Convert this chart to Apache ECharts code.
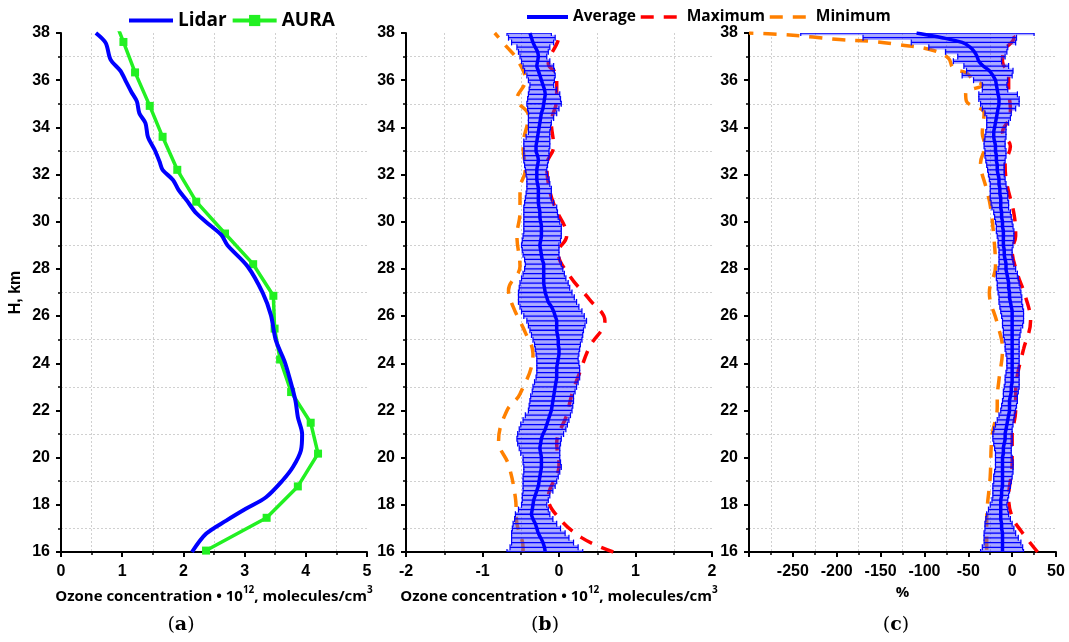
<!DOCTYPE html>
<html>
<head>
<meta charset="utf-8">
<script src="https://cdn.jsdelivr.net/npm/echarts@6/dist/echarts.min.js"></script>
<style>
  html, body { margin: 0; padding: 0; background: #ffffff; }
  #chart { width: 1069px; height: 642px; }
</style>
</head>
<body>
<div id="chart"></div>
<script>
// ---------- (a) Lidar vs AURA ozone concentration profiles ----------
const lidarH    = [16.0, 16.77, 17.33, 17.83, 18.32, 19.03, 19.6, 20.3, 21.0, 21.72, 22.43, 23.42, 24.1, 24.98, 26.04, 26.96, 28.1, 29.0, 29.44, 29.86, 30.36, 30.92, 31.35, 31.77, 32.2, 32.55, 33.05, 33.6, 34.18, 34.6, 35.1, 35.5, 35.95, 36.4, 36.87, 37.58, 38.0];
const lidarConc = [2.14, 2.37, 2.70, 3.02, 3.35, 3.62, 3.79, 3.92, 3.94, 3.87, 3.83, 3.73, 3.65, 3.51, 3.43, 3.30, 3.05, 2.72, 2.62, 2.43, 2.21, 2.05, 1.92, 1.83, 1.66, 1.61, 1.53, 1.42, 1.38, 1.28, 1.24, 1.15, 1.06, 0.97, 0.81, 0.73, 0.57];

const auraH    = [16.06, 17.45, 18.78, 20.17, 21.48, 22.78, 24.16, 25.47, 26.86, 28.2, 29.5, 30.85, 32.2, 33.6, 34.91, 36.33, 37.62, 38.95];
const auraConc = [2.37, 3.36, 3.87, 4.20, 4.08, 3.76, 3.58, 3.49, 3.47, 3.14, 2.68, 2.21, 1.90, 1.66, 1.45, 1.21, 1.02, 0.82];

// ---------- (b), (c) lidar minus AURA: sampled every 0.2 km from 16 to 38 km ----------
const H_START = 16.0;
const H_STEP = 0.2;

// (b) absolute difference, 10^12 molecules/cm3
const bMean = [
  -0.18,-0.19,-0.21,-0.24,-0.27,-0.29,-0.31,-0.34,-0.36,-0.35,
  -0.34,-0.33,-0.31,-0.29,-0.27,-0.26,-0.25,-0.24,-0.23,-0.23,
  -0.23,-0.24,-0.25,-0.24,-0.23,-0.21,-0.18,-0.16,-0.14,-0.12,
  -0.10,-0.09,-0.08,-0.07,-0.06,-0.05,-0.04,-0.03,-0.03,-0.03,
  -0.02,-0.01, 0.00, 0.00,-0.01,-0.01,-0.02,-0.03,-0.03,-0.03,
  -0.05,-0.07,-0.10,-0.14,-0.16,-0.18,-0.19,-0.20,-0.20,-0.20,
  -0.20,-0.20,-0.22,-0.23,-0.24,-0.25,-0.24,-0.23,-0.23,-0.23,
  -0.24,-0.25,-0.25,-0.26,-0.27,-0.27,-0.27,-0.27,-0.28,-0.29,
  -0.29,-0.29,-0.28,-0.27,-0.28,-0.30,-0.30,-0.29,-0.28,-0.27,
  -0.26,-0.25,-0.24,-0.23,-0.21,-0.20,-0.19,-0.18,-0.19,-0.21,
  -0.23,-0.25,-0.27,-0.29,-0.28,-0.27,-0.28,-0.31,-0.34,-0.36,
  -0.38
];
const bLow = [
  -0.68,-0.64,-0.62,-0.62,-0.62,-0.61,-0.60,-0.58,-0.57,-0.53,
  -0.49,-0.48,-0.48,-0.47,-0.47,-0.47,-0.47,-0.46,-0.46,-0.47,
  -0.47,-0.50,-0.52,-0.54,-0.55,-0.54,-0.52,-0.50,-0.47,-0.44,
  -0.40,-0.39,-0.38,-0.37,-0.35,-0.34,-0.32,-0.30,-0.29,-0.29,
  -0.29,-0.29,-0.30,-0.31,-0.32,-0.34,-0.36,-0.38,-0.40,-0.42,
  -0.46,-0.49,-0.51,-0.53,-0.53,-0.53,-0.52,-0.51,-0.49,-0.47,
  -0.45,-0.44,-0.45,-0.47,-0.48,-0.49,-0.48,-0.47,-0.46,-0.46,
  -0.46,-0.46,-0.46,-0.46,-0.45,-0.44,-0.43,-0.42,-0.42,-0.42,
  -0.43,-0.44,-0.45,-0.46,-0.46,-0.46,-0.46,-0.46,-0.43,-0.40,
  -0.40,-0.40,-0.40,-0.40,-0.41,-0.42,-0.41,-0.40,-0.39,-0.38,
  -0.40,-0.42,-0.45,-0.47,-0.49,-0.51,-0.53,-0.55,-0.62,-0.66,
  -0.68
];
const bHigh = [
   0.31, 0.25, 0.19, 0.13, 0.08, 0.02,-0.03,-0.08,-0.12,-0.14,
  -0.16,-0.14,-0.12,-0.08,-0.05,-0.03,-0.01, 0.01, 0.03, 0.02,
   0.01, 0.01, 0.01, 0.02, 0.03, 0.06, 0.09, 0.11, 0.13, 0.15,
   0.17, 0.18, 0.19, 0.19, 0.21, 0.23, 0.25, 0.27, 0.27, 0.27,
   0.26, 0.25, 0.26, 0.27, 0.28, 0.30, 0.31, 0.32, 0.34, 0.36,
   0.33, 0.30, 0.26, 0.23, 0.20, 0.17, 0.14, 0.12, 0.09, 0.07,
   0.05, 0.03, 0.01, 0.00, 0.00, 0.00, 0.02, 0.03, 0.03, 0.03,
   0.01,-0.01,-0.02,-0.03,-0.07,-0.10,-0.10,-0.10,-0.12,-0.13,
  -0.15,-0.16,-0.15,-0.14,-0.13,-0.13,-0.12,-0.12,-0.12,-0.12,
  -0.11,-0.10,-0.07,-0.03, 0.00, 0.03, 0.02, 0.01,-0.03,-0.07,
  -0.06,-0.05,-0.06,-0.07,-0.12,-0.16,-0.14,-0.12,-0.07,-0.05,
  -0.10
];
const bMaxH = [16.0, 16.6, 17.55, 18.3, 19.7, 20.6, 21.8, 22.7, 23.6, 24.7, 25.8, 26.7, 27.7, 28.7, 29.4, 30.6, 31.3, 32.4, 33.2, 34.2, 35.2, 36.2, 36.7, 37.7, 38.0];
const bMaxV = [0.71, 0.30, -0.03, -0.14, 0.00, -0.03, 0.10, 0.17, 0.27, 0.40, 0.60, 0.40, 0.14, -0.01, 0.10, -0.05, -0.12, -0.16, -0.07, -0.10, -0.03, -0.03, -0.14, -0.01, 0.00];
const bMinH = [16.0, 16.2, 17.2, 18.3, 19.7, 20.7, 22.0, 22.7, 24.4, 25.3, 26.4, 27.1, 28.1, 29.4, 30.4, 31.4, 32.2, 33.2, 34.5, 35.2, 36.0, 36.9, 37.4, 38.0];
const bMinV = [-0.47, -0.47, -0.55, -0.57, -0.66, -0.79, -0.68, -0.51, -0.34, -0.44, -0.60, -0.66, -0.51, -0.55, -0.51, -0.51, -0.44, -0.47, -0.40, -0.55, -0.44, -0.55, -0.68, -0.84];

// (c) relative difference, %
const cMean = [
  -11,-11,-11,-11,-11,-12,-12,-13,-13,-13,
  -13,-13,-12,-12,-11,-11,-11,-11,-11,-11,
  -11,-10,-10, -9, -8, -8, -7, -6, -5, -4,
   -3, -3, -3, -2, -1, -1,  0,  0,  0,  0,
    0,  0,  0,  0,  0,  0,  0,  0,  0,  0,
    0,  0, -1, -2, -3, -3, -4, -4, -5, -6,
   -7, -7, -8, -9, -9,-10,-10,-10,-10,-11,
  -11,-12,-12,-13,-13,-13,-14,-14,-15,-15,
  -16,-17,-17,-18,-18,-19,-19,-20,-21,-21,
  -20,-19,-18,-17,-16,-15,-15,-16,-17,-18,
  -19,-22,-26,-33,-38,-40,-43,-48,-57,-80,
  -109
];
const cLow = [
  -36,-34,-32,-32,-32,-31,-31,-30,-29,-27,
  -25,-23,-22,-22,-22,-21,-21,-20,-19,-19,
  -19,-19,-20,-21,-22,-22,-21,-19,-17,-15,
  -13,-12,-11,-10,-10, -9, -8, -8, -7, -6,
   -6, -6, -7, -8, -8, -9,-10,-10,-11,-11,
  -12,-13,-14,-15,-15,-16,-17,-17,-18,-18,
  -16,-15,-15,-15,-15,-16,-16,-17,-18,-18,
  -19,-20,-21,-23,-24,-25,-25,-25,-25,-26,
  -27,-28,-29,-30,-31,-31,-32,-32,-31,-30,
  -29,-29,-29,-31,-34,-36,-38,-38,-34,-34,
  -44,-57,-52,-55,-67,-62,-76,-95,-115,-170,
  -241
];
const cHigh = [
   13, 12, 10,  7,  4,  2,  0, -2, -4, -5,
   -6, -5, -4, -3, -2, -1,  0,  1,  1,  1,
    0, -1, -1,  0,  0,  0,  0,  1,  2,  3,
    4,  5,  6,  6,  7,  8,  8,  8,  8,  8,
    8,  8,  8,  8,  8,  8,  9, 10, 12, 13,
   13, 13, 12, 11, 11, 10,  9,  8,  7,  6,
    4,  2,  1,  0,  0,  1,  2,  2,  2,  1,
    0, -1, -2, -4, -4, -5, -5, -6, -7, -8,
   -9, -9, -9, -8, -7, -7, -8, -8, -7, -7,
   -7, -4, -2, -1,  4,  8,  8,  6, -5, -6,
   -5,  0,  1, -4,-12, -8, -6, -5,  4,  5,
   25
];
const cMaxH = [16.0, 16.9, 17.5, 18.3, 19.75, 20.9, 22.0, 22.8, 23.5, 24.6, 25.8, 26.85, 27.8, 28.8, 29.4, 30.35, 31.6, 32.4, 33.2, 33.8, 34.4, 34.8, 35.6, 36.2, 36.8, 37.2, 37.8, 38.0];
const cMaxV = [29, 10, 0, -4, 0, 0, 4, 4, 6, 13, 21, 15, 6, 0, 4, 2, -6, -8, -2, -11, -3, -2, -4, -4, -11, -10, 2, -2];
const cMinH = [16.1, 16.5, 17.35, 19.2, 20.9, 22.15, 22.5, 23.3, 24.6, 25.7, 27.0, 28.1, 29.4, 30.7, 31.35, 32.5, 33.2, 33.75, 34.6, 35.1, 35.45, 35.8, 36.0, 36.3, 36.5, 36.95, 37.3, 37.5, 37.65, 37.72, 37.83, 37.93, 38.0];
const cMinV = [-29, -29, -29, -25, -23, -17, -17, -15, -11, -17, -26, -19, -21, -25, -29, -36, -31, -34, -32, -52, -53, -34, -44, -52, -67, -73, -94, -128, -162, -197, -227, -260, -300];

// ---------- axis ticks ----------
const heightTicks = { min: 16, max: 38, step: 2 };
const concTicksA  = { min: 0, max: 5, step: 1 };
const concTicksB  = { min: -2, max: 2, step: 1 };
const pctTicksC   = { min: -300, max: 50, step: 50 };

// ---------- helpers ----------
const sampleH = bMean.map((_, i) => +(H_START + i * H_STEP).toFixed(1));
const pairs = (xs, hs) => xs.map((x, i) => [x, hs[i]]);
const bars = (lo, hi) => lo.map((l, i) => [l, hi[i], sampleH[i]]);

const NUM_FONT = 'Arial, "Liberation Sans", sans-serif';
const TXT_FONT = '"Open Sans", sans-serif';
const BLUE = '#0000ff';
const GREEN = '#22f022';
const RED = '#ff0000';
const ORANGE = '#ff8000';

function renderErrorBar(params, api) {
  const h = api.value(2);
  const a = api.coord([api.value(0), h]);
  const b = api.coord([api.value(1), h]);
  const band = api.size([0, H_STEP])[1];
  const cap = 3;
  return {
    type: 'group',
    children: [
      { type: 'rect', shape: { x: a[0], y: a[1] - band / 2, width: b[0] - a[0], height: band },
        style: { fill: 'rgba(60,60,255,0.45)' } },
      { type: 'line', shape: { x1: a[0], y1: a[1], x2: b[0], y2: b[1] },
        style: { stroke: BLUE, lineWidth: 1.3 } },
      { type: 'line', shape: { x1: a[0], y1: a[1] - cap, x2: a[0], y2: a[1] + cap },
        style: { stroke: BLUE, lineWidth: 1.2 } },
      { type: 'line', shape: { x1: b[0], y1: b[1] - cap, x2: b[0], y2: b[1] + cap },
        style: { stroke: BLUE, lineWidth: 1.2 } }
    ]
  };
}

const axisCommon = {
  type: 'value',
  axisLine: { show: true, onZero: false, lineStyle: { color: '#000', width: 2 } },
  axisTick: { show: true, inside: false, length: 5, lineStyle: { color: '#000', width: 2 } },
  minorTick: { show: true, splitNumber: 2, length: 3, lineStyle: { color: '#000', width: 1.5 } },
  splitLine: { show: false },
  minorSplitLine: { show: true, lineStyle: { color: '#d0d0d0', width: 1, type: [2, 2] } },
  axisLabel: { fontFamily: NUM_FONT, fontSize: 16, fontWeight: 700, color: '#000', margin: 12 }
};

const concName = '{n|Ozone concentration \u2022 10}{s|12}{n|, molecules/cm}{s|3}';
const concNameStyle = {
  rich: {
    n: { fontFamily: TXT_FONT, fontSize: 15, fontWeight: 700, color: '#000', lineHeight: 19, verticalAlign: 'bottom' },
    s: { fontFamily: TXT_FONT, fontSize: 10, fontWeight: 700, color: '#000', lineHeight: 19, verticalAlign: 'top', padding: [0, 0, 6, 0] }
  }
};

function xAxisFor(gridIndex, t, name, extra) {
  return Object.assign({}, axisCommon, {
    gridIndex, min: t.min, max: t.max, interval: t.step,
    name, nameLocation: 'middle', nameGap: 30, nameTextStyle: concNameStyle
  }, extra || {});
}
function yAxisFor(gridIndex, withName) {
  const ax = Object.assign({}, axisCommon, {
    gridIndex, min: heightTicks.min, max: heightTicks.max, interval: heightTicks.step,
    axisLabel: Object.assign({}, axisCommon.axisLabel, { margin: 11 })
  });
  if (withName) {
    ax.name = 'H, km';
    ax.nameLocation = 'middle';
    ax.nameGap = 37;
    ax.nameTextStyle = { fontFamily: NUM_FONT, fontSize: 16, fontWeight: 700, color: '#000' };
  }
  return ax;
}

const dashed = (color) => ({ color, width: 3.5, type: [13, 10], cap: 'butt' });

function diffSeries(idx, lo, hi, mean, maxH, maxV, minH, minV) {
  return [
    { name: 'Maximum', type: 'line', xAxisIndex: idx, yAxisIndex: idx, z: 2,
      data: pairs(maxV, maxH), symbol: 'none', smooth: 0.4, color: RED, lineStyle: dashed(RED) },
    { name: 'Minimum', type: 'line', xAxisIndex: idx, yAxisIndex: idx, z: 2,
      data: pairs(minV, minH), symbol: 'none', smooth: 0.4, color: ORANGE, lineStyle: dashed(ORANGE) },
    { type: 'custom', xAxisIndex: idx, yAxisIndex: idx, z: 3, clip: true,
      renderItem: renderErrorBar, encode: { x: [0, 1], y: 2 }, data: bars(lo, hi) },
    { name: 'Average', type: 'line', xAxisIndex: idx, yAxisIndex: idx, z: 4,
      data: pairs(mean, sampleH), symbol: 'none', smooth: 0.3, color: BLUE,
      lineStyle: { color: BLUE, width: 3.5 } }
  ];
}

const legendText = (size) => ({ fontFamily: TXT_FONT, fontSize: size, fontWeight: 700, color: '#000' });
// legend entries for plain lines: hide the marker, keep a thick line sample
const lineOnly = (name, dash) => ({
  name, itemStyle: { opacity: 0 },
  lineStyle: dash ? { width: 3.5, type: [13, 10] } : { width: 4 }
});

const panelTag = (letter, cx) => ({
  type: 'text', x: cx, y: 625,
  style: {
    text: '{p|(}{b|' + letter + '}{p|)}',
    textAlign: 'center', textVerticalAlign: 'middle',
    rich: {
      p: { fontFamily: 'DejaVu Serif', fontSize: 19, fill: '#000' },
      b: { fontFamily: 'DejaVu Serif', fontSize: 19, fontWeight: 'bold', fill: '#000' }
    }
  }
});

const option = {
  animation: false,
  backgroundColor: '#ffffff',
  grid: [
    { left: 61, top: 33, width: 306, height: 519 },
    { left: 406, top: 33, width: 306, height: 519 },
    { left: 749, top: 33, width: 307, height: 519 }
  ],
  xAxis: [
    xAxisFor(0, concTicksA, concName),
    xAxisFor(1, concTicksB, concName),
    xAxisFor(2, pctTicksC, '%', {
      nameTextStyle: { fontFamily: TXT_FONT, fontSize: 15, fontWeight: 700, color: '#000' },
      nameGap: 31,
      axisLabel: Object.assign({}, axisCommon.axisLabel, {
        formatter: (v) => (v === pctTicksC.min ? '' : String(v))
      })
    })
  ],
  yAxis: [yAxisFor(0, true), yAxisFor(1, false), yAxisFor(2, false)],
  legend: [
    { data: [lineOnly('Lidar'), { name: 'AURA', lineStyle: { width: 4 } }], left: 122, top: 6,
      itemWidth: 44, itemHeight: 14, itemGap: 4, textStyle: legendText(19) },
    { data: [lineOnly('Average'), lineOnly('Maximum', true), lineOnly('Minimum', true)], left: 520, top: 4,
      itemWidth: 41, itemHeight: 14, itemGap: 3, textStyle: legendText(15.5) }
  ],
  series: [
    { name: 'Lidar', type: 'line', xAxisIndex: 0, yAxisIndex: 0, z: 3,
      data: pairs(lidarConc, lidarH), symbol: 'none', smooth: 0.3, color: BLUE,
      lineStyle: { color: BLUE, width: 4 } },
    { name: 'AURA', type: 'line', xAxisIndex: 0, yAxisIndex: 0, z: 2,
      data: pairs(auraConc, auraH), symbol: 'rect', symbolSize: 8, showAllSymbol: true, color: GREEN,
      itemStyle: { color: GREEN }, lineStyle: { color: GREEN, width: 3.5 } },
    ...diffSeries(1, bLow, bHigh, bMean, bMaxH, bMaxV, bMinH, bMinV),
    ...diffSeries(2, cLow, cHigh, cMean, cMaxH, cMaxV, cMinH, cMinV)
  ],
  graphic: [panelTag('a', 181), panelTag('b', 545), panelTag('c', 896)]
};

const chart = echarts.init(document.getElementById('chart'), null, { renderer: 'canvas' });
chart.setOption(option);
</script>
</body>
</html>
